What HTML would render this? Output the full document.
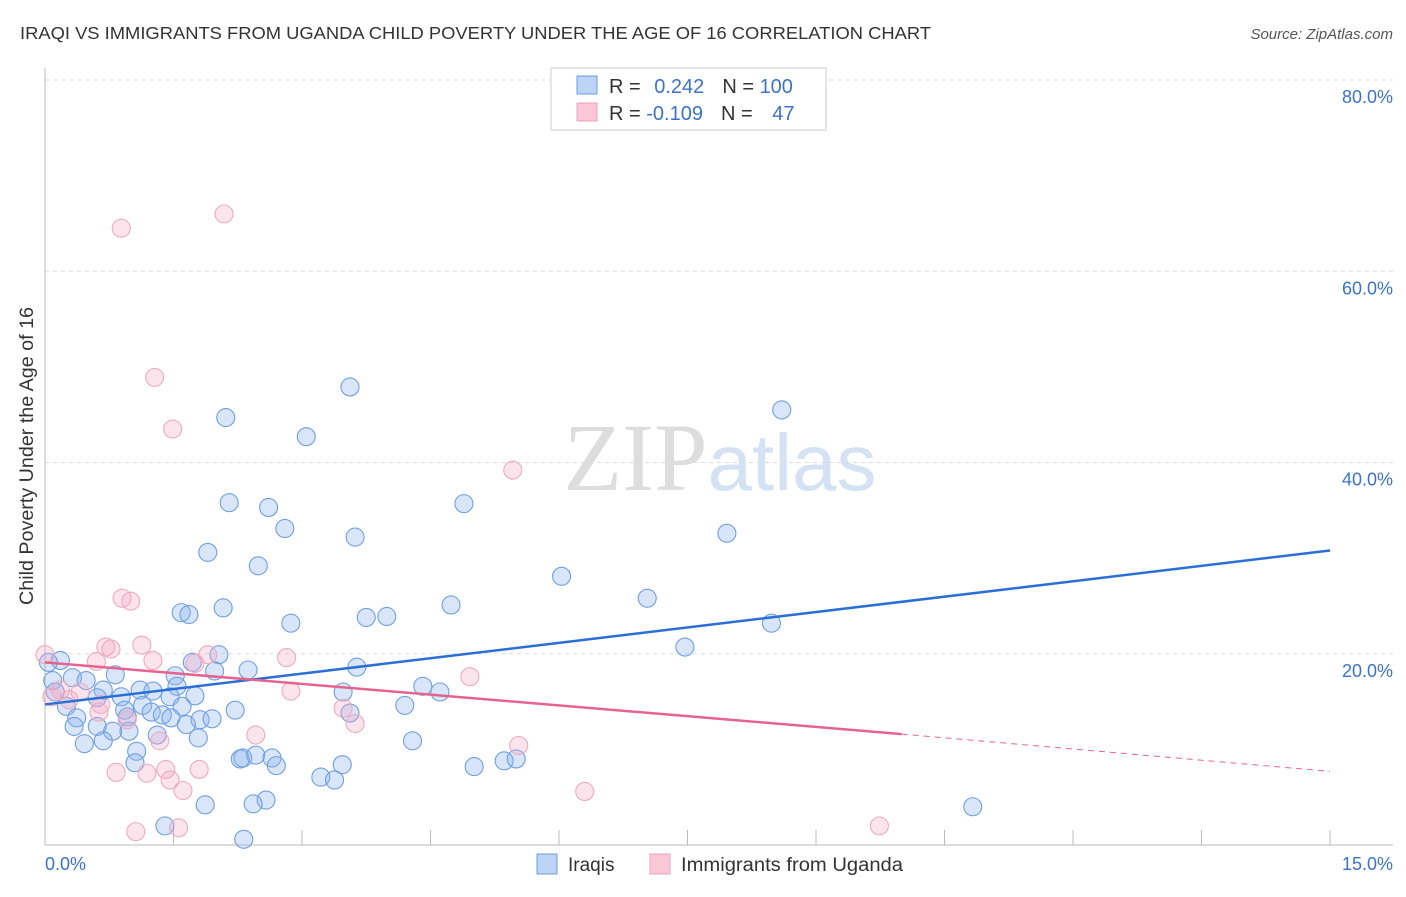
<!DOCTYPE html>
<html><head><meta charset="utf-8"><style>
body{margin:0;background:#fff;font-family:"Liberation Sans",sans-serif}
</style></head><body>
<svg width="1406" height="892" xmlns="http://www.w3.org/2000/svg" font-family="Liberation Sans, sans-serif">
<text x="20" y="39" font-size="17.5" fill="#333" textLength="911" lengthAdjust="spacingAndGlyphs">IRAQI VS IMMIGRANTS FROM UGANDA CHILD POVERTY UNDER THE AGE OF 16 CORRELATION CHART</text>
<text x="1393" y="39" font-size="15" fill="#555" font-style="italic" text-anchor="end">Source: ZipAtlas.com</text>
<text x="720" y="490" font-size="96" text-anchor="middle"><tspan fill="#ddd" font-family="Liberation Serif, serif">ZIP</tspan><tspan fill="#d4e2f4" font-size="80">atlas</tspan></text>
<g id="grid"></g>
<g id="axes"></g>
<g id="pts"></g>
<g id="lines"></g>
<text transform="translate(33,456) rotate(-90)" font-size="19" fill="#333" text-anchor="middle" textLength="298" lengthAdjust="spacingAndGlyphs">Child Poverty Under the Age of 16</text>
<g>
<rect x="551" y="68" width="275" height="62" fill="#fff" stroke="#ccc"/>
<rect x="577" y="76" width="20" height="18" fill="#bcd4f5" stroke="#6a9be0"/>
<rect x="577" y="103" width="20" height="18" fill="#f9c7d6" stroke="#eca2ba"/>
<text x="609" y="93" font-size="20" fill="#333">R = <tspan fill="#3b73c9" dx="8">0.242</tspan><tspan dx="18">N = </tspan><tspan fill="#3b73c9">100</tspan></text>
<text x="609" y="120" font-size="20" fill="#333">R = <tspan fill="#3b73c9">-0.109</tspan><tspan dx="18">N = </tspan><tspan fill="#3b73c9" dx="14">47</tspan></text>
</g>
<g>
<rect x="537" y="854" width="20" height="20" fill="#bcd4f5" stroke="#6a9be0"/>
<text x="568" y="871" font-size="19" fill="#333">Iraqis</text>
<rect x="650" y="854" width="20" height="20" fill="#f9c7d6" stroke="#eca2ba"/>
<text x="681" y="871" font-size="19" fill="#333" textLength="222" lengthAdjust="spacingAndGlyphs">Immigrants from Uganda</text>
</g>
</svg>
<script>
const yTicks=[20,40,60,80];
const yTickLabels=["20.0%","40.0%","60.0%","80.0%"];
const xTicks=[0,1.5,3,4.5,6,7.5,9,10.5,12,13.5,15];
const blueX=[3.56,8.60,2.11,3.05,2.15,4.89,2.61,2.80,3.62,7.96,1.90,2.49,6.03,7.03,4.74,1.59,1.68,2.08,3.75,3.99,2.87,8.48,7.47,2.03,1.72,3.64,2.37,1.98,0.18,0.04,0.09,0.32,0.48,0.82,1.52,1.54,4.41,4.61,3.48,0.12,0.68,0.89,1.11,1.26,1.75,1.46,1.60,0.61,0.25,0.93,1.14,1.24,1.37,2.22,4.20,3.56,0.96,0.37,1.47,1.81,1.95,0.34,1.65,0.61,0.98,0.79,1.31,1.79,0.46,0.68,4.29,1.07,1.05,2.28,2.31,2.46,2.65,2.70,3.47,3.22,3.38,5.01,5.36,5.50,2.58,2.43,1.87,10.83,1.40,2.32];
const blueY=[47.9,45.5,44.7,42.7,35.8,35.7,35.3,33.1,32.2,32.6,30.6,29.2,28.1,25.8,25.1,24.3,24.1,24.8,23.8,23.9,23.2,23.2,20.7,19.9,19.1,18.6,18.3,18.2,19.3,19.1,17.2,17.5,17.2,17.8,17.7,16.6,16.6,16.0,16.0,16.0,16.2,15.5,16.2,16.1,15.6,15.5,14.5,15.4,14.5,14.1,14.6,13.9,13.6,14.1,14.6,13.8,13.4,13.3,13.3,13.1,13.2,12.4,12.6,12.4,11.9,11.9,11.5,11.2,10.6,10.9,10.9,9.8,8.6,9.0,9.1,9.4,9.1,8.3,8.4,7.1,6.8,8.2,8.8,9.0,4.7,4.3,4.2,4.0,2.0,0.6];
const pinkX=[2.09,0.89,1.28,1.49,5.46,0.90,1.00,1.13,0.71,0.77,1.90,2.82,1.26,0.60,0,1.75,4.96,2.87,0.41,0.08,0.28,0.63,0.65,3.48,3.62,2.46,1.34,5.53,0.83,1.19,1.41,1.80,1.46,1.61,6.30,1.06,1.56,9.74,0.96,0.18];
const pinkY=[66.0,64.5,48.9,43.5,39.2,25.8,25.5,20.9,20.7,20.5,19.9,19.6,19.3,19.2,19.9,19.0,17.6,16.1,16.0,15.5,15.2,13.9,14.7,14.3,12.7,11.5,10.9,10.4,7.6,7.5,7.9,7.9,6.8,5.7,5.6,1.4,1.8,2.0,13.1,16.2];
const blueTrend=[[0,14.7],[15,30.8]];
const pinkTrend=[[0,19.1],[10,11.6],[15,7.7]];
const NS="http://www.w3.org/2000/svg";
const xs=v=>45+v*(1285/15);
const ys=v=>845-v*(765/80);
function mk(p,t,a){const e=document.createElementNS(NS,t);for(const k in a)e.setAttribute(k,a[k]);p.appendChild(e);return e;}
const grid=document.getElementById('grid'),axes=document.getElementById('axes'),pts=document.getElementById('pts'),lines=document.getElementById('lines');
yTicks.forEach((t,i)=>{
 const l=mk(grid,'line',{x1:45,x2:1393,y1:ys(t),y2:ys(t),stroke:'#ddd','stroke-dasharray':'4,4'});
 
 
 const tx=mk(grid,'text',{x:1393,y:ys(t)+23,'font-size':18,fill:'#3b73c9','text-anchor':'end'});
 tx.textContent=yTickLabels[i];
 
 
});
const ya=mk(axes,'line',{x1:45,x2:45,y1:68,y2:845,stroke:'#bbb'});


const xa=mk(axes,'line',{x1:45,x2:1393,y1:845,y2:845,stroke:'#bbb'});


xTicks.forEach(t=>{
 const l=mk(axes,'line',{x1:xs(t),x2:xs(t),y1:830,y2:845,stroke:'#bbb'});
 
 
});
const x0=mk(axes,'text',{x:45,y:870,'font-size':18,fill:'#3b73c9'});x0.textContent='0.0%';


const x1=mk(axes,'text',{x:1393,y:870,'font-size':18,fill:'#3b73c9','text-anchor':'end'});x1.textContent='15.0%';


blueX.forEach((v,i)=>{
 const c=mk(pts,'circle',{cx:xs(v),cy:ys(blueY[i]),r:9,fill:'rgba(140,178,238,0.33)',stroke:'#6f9fe0','stroke-width':1.1});
 
 
});
pinkX.forEach((v,i)=>{
 const c=mk(pts,'circle',{cx:xs(v),cy:ys(pinkY[i]),r:9,fill:'rgba(245,165,195,0.3)',stroke:'#eeaac0','stroke-width':1.1});
 
 
});
const bl=mk(lines,'line',{x1:xs(blueTrend[0][0]),y1:ys(blueTrend[0][1]),x2:xs(blueTrend[1][0]),y2:ys(blueTrend[1][1]),stroke:'#2a6fd6','stroke-width':2.5});


const pl=mk(lines,'line',{x1:xs(pinkTrend[0][0]),y1:ys(pinkTrend[0][1]),x2:xs(pinkTrend[1][0]),y2:ys(pinkTrend[1][1]),stroke:'#e4648f','stroke-width':2.5});


const pd=mk(lines,'line',{x1:xs(pinkTrend[1][0]),y1:ys(pinkTrend[1][1]),x2:xs(pinkTrend[2][0]),y2:ys(pinkTrend[2][1]),stroke:'#e4648f','stroke-width':1,'stroke-dasharray':'6,5'});


</script>
</body></html>
